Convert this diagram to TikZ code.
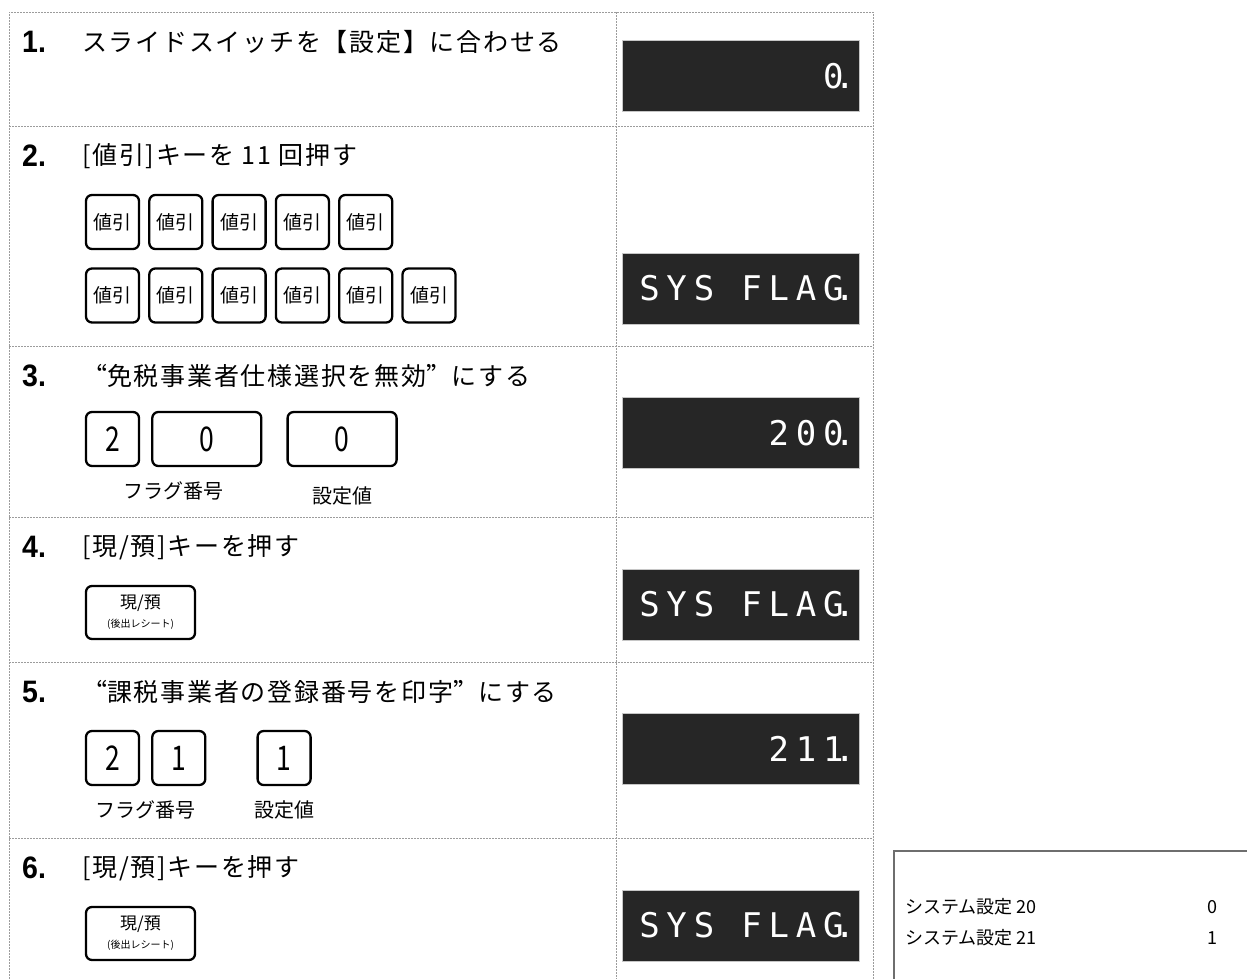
\documentclass[tikz,border=0pt]{standalone}
\usepackage{fontspec}
\setmainfont{Noto Sans CJK JP}
\newfontfamily\headfont[LetterSpace=7]{Noto Sans CJK JP}
\newfontfamily\numfont[FakeStretch=0.92]{Liberation Sans}
\newfontfamily\narrowjp[FakeStretch=0.78]{Noto Sans CJK JP}
\newfontfamily\segfont[LetterSpace=20]{DejaVu Sans Mono}
\usetikzlibrary{positioning, calc}

\definecolor{lcdbg}{HTML}{262626}
\definecolor{rulegray}{HTML}{9C9C9C}
\definecolor{boxgray}{HTML}{6E6E6E}

\tikzset{
  ruleline/.style={rulegray, line width=0.9pt, dash pattern=on 2pt off 1pt},
  stepno/.style={anchor=west, inner sep=0pt, font=\numfont\bfseries\fontsize{31}{31}\selectfont},
  stephead/.style={anchor=west, inner sep=0pt, font=\headfont\fontsize{25}{28}\selectfont},
  key/.style={draw=black, line width=2.3pt, rounded corners=6pt, inner sep=0pt,
    minimum width=53pt, minimum height=54pt, font=\fontsize{19}{22}\selectfont},
  numkey/.style={key, font=\narrowjp\fontsize{34}{34}\selectfont},
  cashkey/.style={key, minimum width=109pt, minimum height=53pt, align=center,
    font=\fontsize{17}{19}\selectfont},
  keynote/.style={inner sep=0pt, font=\fontsize{20}{24}\selectfont},
  lcd/.style={fill=lcdbg, draw=gray!45, line width=0.8pt, minimum width=237pt,
    minimum height=71pt, text width=229pt, inner xsep=4pt, align=right, text=white,
    font=\segfont\fontsize{34}{34}\selectfont},
  memo/.style={anchor=west, inner sep=0pt, font=\fontsize{18}{22}\selectfont}
}
\newcommand{\lcddot}{\kern-9pt.}
\newcommand{\lcdgap}{\kern27pt}
\newcommand{\fq}[1]{{\addfontfeature{CharacterWidth=Full}#1}}
\newcommand{\cashlabel}{現/預\\{\fontsize{10}{12}\selectfont (後出レシート)}}

\begin{document}
\begin{tikzpicture}[x=1pt, y=-1pt]
  \useasboundingbox (0,0) rectangle (1247,978);
  % table
  \draw[ruleline] (9,1000) -- (9,12) -- (873,12) -- (873,1000);
  \draw[ruleline] (616,12) -- (616,1000);
  \foreach \y in {126,346,517,662,838}
    \draw[ruleline] (9,\y) -- (873,\y);

  % step 1
  \node[stepno] (n1) at (22,42) {1.};
  \node[stephead] (h1) at (82,42) {スライドスイッチを【設定】に合わせる};
  \node[lcd] (d1) at (740.5,76) {0\lcddot};

  % step 2
  \node[stepno] (n2) at (22,156) {2.};
  \node[stephead] (h2) at (82,156) {[値引]キーを 11 回押す};
  \node[key] (a1) at (112.5,222) {値引};
  \foreach \i [count=\j] in {2,...,5}
    \node[key, right=8pt of a\j] (a\i) {値引};
  \node[key] (b1) at (112.5,295.5) {値引};
  \foreach \i [count=\j] in {2,...,6}
    \node[key, right=8pt of b\j] (b\i) {値引};
  \node[lcd] (d2) at (740.5,288.5) {SYS\lcdgap FLAG\lcddot};

  % step 3
  \node[stepno] (n3) at (22,376) {3.};
  \node[stephead] (h3) at (82,376) {\fq{“}免税事業者仕様選択を無効\fq{”}にする};
  \node[numkey] (f1) at (112.5,439) {2};
  \node[numkey, minimum width=109pt, right=11pt of f1] (f2) {0};
  \node[numkey, minimum width=109pt, right=24pt of f2] (v1) {0};
  \node[keynote, below=14pt of $(f1.south west)!0.5!(f2.south east)$] (fl1) {フラグ番号};
  \node[keynote, below=19pt of v1] (sv1) {設定値};
  \node[lcd] (d3) at (740.5,433) {200\lcddot};

  % step 4
  \node[stepno] (n4) at (22,547) {4.};
  \node[stephead] (h4) at (82,547) {[現/預]キーを押す};
  \node[cashkey] (c1) at (140.5,612.5) {\cashlabel};
  \node[lcd] (d4) at (740.5,604.5) {SYS\lcdgap FLAG\lcddot};

  % step 5
  \node[stepno] (n5) at (22,692) {5.};
  \node[stephead] (h5) at (82,692) {\fq{“}課税事業者の登録番号を印字\fq{”}にする};
  \node[numkey] (g1) at (112.5,758) {2};
  \node[numkey, right=11pt of g1] (g2) {1};
  \node[numkey, right=50pt of g2] (v2) {1};
  \node[keynote, below=14pt of $(g1.south west)!0.5!(g2.south east)$] (fl2) {フラグ番号};
  \node[keynote, below=14pt of v2] (sv2) {設定値};
  \node[lcd] (d5) at (740.5,748.5) {211\lcddot};

  % step 6
  \node[stepno] (n6) at (22,868) {6.};
  \node[stephead] (h6) at (82,868) {[現/預]キーを押す};
  \node[cashkey] (c2) at (140.5,933.5) {\cashlabel};
  \node[lcd] (d6) at (740.5,925.5) {SYS\lcdgap FLAG\lcddot};

  % memo
  \draw[boxgray, line width=1.2pt] (1260,851) -| (894,1000);
  \node[memo] (m1) at (905,907) {システム設定 20};
  \node[memo] (m2) at (905,938) {システム設定 21};
  \node[memo, anchor=center] (m1v) at (1212,907) {0};
  \node[memo, anchor=center] (m2v) at (1212,938) {1};
\end{tikzpicture}
\end{document}
